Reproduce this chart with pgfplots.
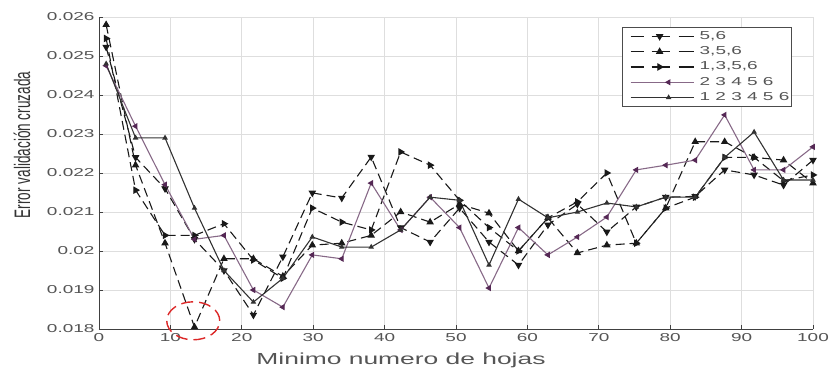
\documentclass[border=0pt]{standalone}
\usepackage{pgfplots}
\usepackage{pgfplotstable}
\pgfplotsset{compat=1.18}
\usepackage{fontspec}
\setmainfont{Liberation Sans}
\newfontfamily\wide[FakeStretch=1.65]{Liberation Sans}
\newfontfamily\narrow[FakeStretch=0.606]{Liberation Sans}
\definecolor{tickgray}{RGB}{85,85,85}
\definecolor{dk}{RGB}{25,25,25}
\definecolor{s5}{RGB}{50,50,50}
\definecolor{purp}{RGB}{135,105,135}
\definecolor{purpm}{RGB}{85,40,85}
\definecolor{circ}{RGB}{220,40,40}

% x  a=5,6  b=3,5,6  c=1,3,5,6  d=2 3 4 5 6  e=1 2 3 4 5 6
\pgfplotstableread{
x       a        b        c        d        e
1       0.02523  0.02580  0.02545  0.02475  0.02480
5.125   0.02240  0.02220  0.02156  0.02320  0.02290
9.25    0.02160  0.02020  0.02040  0.02170  0.02290
13.375  0.02030  0.01805  0.02040  0.02030  0.02110
17.5    0.01950  0.01980  0.02070  0.02040  0.01950
21.625  0.01836  0.01980  0.01977  0.01900  0.01869
25.75   0.01985  0.01935  0.01930  0.01856  0.01930
29.875  0.02149  0.02015  0.02110  0.01990  0.02036
34      0.02136  0.02020  0.02074  0.01980  0.02010
38.125  0.02241  0.02040  0.02054  0.02174  0.02010
42.25   0.02060  0.02100  0.02254  0.02054  0.02054
46.375  0.02023  0.02074  0.02220  0.02138  0.02138
50.5    0.02110  0.02120  0.02130  0.02060  0.02130
54.625  0.02023  0.02097  0.02060  0.01905  0.01964
58.75   0.01964  0.02000  0.02000  0.02060  0.02133
62.875  0.02067  0.02085  0.02085  0.01990  0.02085
67      0.02120  0.01995  0.02126  0.02036  0.02100
71.125  0.02049  0.02015  0.02200  0.02087  0.02123
75.25   0.02113  0.02020  0.02020  0.02208  0.02113
79.375  0.02138  0.02110  0.02110  0.02220  0.02138
83.5    0.02140  0.02280  0.02138  0.02233  0.02138
87.625  0.02208  0.02280  0.02240  0.02349  0.02240
91.75   0.02195  0.02240  0.02240  0.02208  0.02305
95.875  0.02169  0.02233  0.02180  0.02208  0.02182
100     0.02233  0.02174  0.02195  0.02267  0.02182
}\data

\pgfplotsset{
  dashleg/.style={legend image code/.code={%
    \draw[##1, dash pattern=on 13bp off 8bp on 18bp off 9bp on 15bp] (0bp,0bp) -- (63bp,0bp);
    \draw[##1, only marks] plot coordinates {(29bp,0bp)};}},
  solidleg/.style={legend image code/.code={%
    \draw[##1] (0bp,0bp) -- (63bp,0bp);
    \draw[##1, only marks] plot coordinates {(38bp,0bp)};}},
}
\newcommand\legtxt[1]{\makebox[82bp][l]{#1}}

\begin{document}
\begin{tikzpicture}
\begin{axis}[
  scale only axis,
  width=714bp, height=312bp,
  xmin=0, xmax=100, ymin=0.018, ymax=0.026,
  clip=false,
  axis x line*=bottom, axis y line*=left,
  axis line style={-, color=black!75, line width=0.8bp},
  xtick={0,10,...,100},
  ytick={0.018,0.019,0.02,0.021,0.022,0.023,0.024,0.025,0.026},
  yticklabels={0.018,0.019,0.02,0.021,0.022,0.023,0.024,0.025,0.026},
  xticklabels={0,10,20,30,40,50,60,70,80,90,100},
  scaled y ticks=false,
  tick align=inside,
  major tick length=4bp,
  tick style={color=black!75, line width=0.7bp},
  ticklabel style={font=\wide\fontsize{11.5bp}{13bp}\selectfont, text=tickgray},
  xticklabel style={yshift=-1bp},
  yticklabel style={xshift=-1bp},
  grid=major,
  major grid style={color=black!13, line width=0.8bp},
  xlabel={Minimo numero de hojas},
  ylabel={Error validación cruzada},
  xlabel style={font=\wide\fontsize{16bp}{18bp}\selectfont, text=tickgray, at={(axis description cs:0.423,0)}, anchor=center, yshift=-31bp},
  ylabel style={font=\narrow\fontsize{22.4bp}{24bp}\selectfont, text=black!80, at={(axis description cs:0,0.59)}, anchor=center, yshift=77bp},
  legend style={at={(rel axis cs:0.970,0.968)}, anchor=north east,
    draw=black!70, line width=0.8bp, fill=white,
    font=\wide\fontsize{11.5bp}{11.5bp}\selectfont, text=tickgray,
    nodes={inner sep=1.5bp, text height=8.5bp, text depth=2.5bp},
    row sep=1.3bp, column sep=4bp, inner xsep=8bp, inner ysep=2bp},
  legend cell align=left,
]
\addplot[dk, line width=1.1bp, dash pattern=on 9bp off 5bp, mark=triangle*, mark size=3.3bp, mark options={solid, rotate=180, fill=dk}, dashleg] table[x=x,y=a] {\data};
\addlegendentry{\legtxt{5,6}}
\addplot[dk, line width=1.1bp, dash pattern=on 9bp off 5bp, mark=triangle*, mark size=3.3bp, mark options={solid, fill=dk}, dashleg] table[x=x,y=b] {\data};
\addlegendentry{\legtxt{3,5,6}}
\addplot[dk, line width=1.1bp, dash pattern=on 9bp off 5bp, mark=triangle*, mark size=3.3bp, mark options={solid, rotate=-90, fill=dk}, dashleg] table[x=x,y=c] {\data};
\addlegendentry{\legtxt{1,3,5,6}}
\addplot[purp, line width=1.1bp, mark=triangle*, mark size=2.6bp, mark options={solid, rotate=90, fill=purpm, draw=purpm}, solidleg] table[x=x,y=d] {\data};
\addlegendentry{\legtxt{2 3 4 5 6}}
\addplot[s5, line width=1.1bp, mark=triangle*, mark size=2.2bp, mark options={solid, fill=s5}, solidleg] table[x=x,y=e] {\data};
\addlegendentry{\legtxt{1 2 3 4 5 6}}
\draw[circ, line width=1.4bp, dash pattern=on 12bp off 6bp] (axis cs:13.2,0.01821) ellipse [x radius=26.5bp, y radius=19bp];
\coordinate (O) at (rel axis cs:0,0);
\coordinate (T) at (rel axis cs:1,1);
\end{axis}
\pgfresetboundingbox
\path[use as bounding box] ([shift={(-99bp,-41bp)}]O) rectangle ([shift={(16bp,17bp)}]T);
\end{tikzpicture}
\end{document}
